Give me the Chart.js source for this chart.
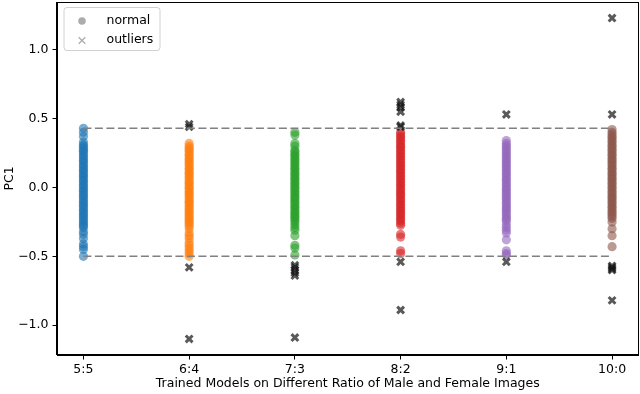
<!DOCTYPE html>
<html><head><meta charset="utf-8">
<script src="https://cdn.jsdelivr.net/npm/chart.js@4/dist/chart.umd.min.js"></script>
<style>html,body{margin:0;padding:0;background:#fff}#wrap{width:640px;height:394px}</style>
</head><body><div id="wrap"><canvas id="c" width="640" height="394"></canvas></div>
<script>
const categories = ['5:5','6:4','7:3','8:2','9:1','10:0'];
const yTicks = [-1.0, -0.5, 0.0, 0.5, 1.0];
const upperBound = 0.43;
const lowerBound = -0.50;
const seriesColors = ['#1f77b4','#ff7f0e','#2ca02c','#d62728','#9467bd','#8c564b'];

const normal55 = [0.43,0.40,0.37,0.33,0.31,0.30,0.285,0.27,0.262,0.245,0.23,0.218,0.2,0.192,0.175,0.16,0.148,0.13,0.122,0.105,0.09,0.081,0.064,0.05,0.038,0.02,0.011,-0.006,-0.02,-0.031,-0.048,-0.06,-0.072,-0.089,-0.1,-0.114,-0.13,-0.141,-0.158,-0.17,-0.183,-0.199,-0.21,-0.226,-0.24,-0.252,-0.268,-0.28,-0.29,-0.32,-0.34,-0.37,-0.41,-0.43,-0.45,-0.50];
const normal64 = [0.32,0.30,0.285,0.27,0.258,0.24,0.228,0.21,0.2,0.183,0.17,0.155,0.14,0.128,0.11,0.1,0.085,0.07,0.058,0.04,0.03,0.014,0.0,-0.012,-0.03,-0.04,-0.055,-0.07,-0.083,-0.1,-0.11,-0.126,-0.14,-0.153,-0.17,-0.18,-0.196,-0.21,-0.224,-0.24,-0.25,-0.265,-0.28,-0.30,-0.33,-0.35,-0.37,-0.40,-0.42,-0.44,-0.46,-0.48,-0.50];
const normal73 = [0.40,0.38,0.32,0.30,0.27,0.258,0.24,0.23,0.212,0.2,0.185,0.17,0.158,0.14,0.13,0.113,0.1,0.086,0.07,0.06,0.043,0.03,0.016,0.0,-0.01,-0.027,-0.04,-0.054,-0.07,-0.08,-0.097,-0.11,-0.124,-0.14,-0.15,-0.167,-0.18,-0.194,-0.21,-0.22,-0.237,-0.25,-0.27,-0.29,-0.31,-0.35,-0.42,-0.44,-0.49];
const normal82 = [0.40,0.388,0.37,0.36,0.343,0.33,0.316,0.3,0.29,0.273,0.26,0.246,0.23,0.22,0.203,0.19,0.176,0.16,0.15,0.133,0.12,0.106,0.09,0.08,0.063,0.05,0.036,0.02,0.01,-0.007,-0.02,-0.034,-0.05,-0.06,-0.077,-0.09,-0.104,-0.12,-0.13,-0.147,-0.16,-0.174,-0.19,-0.2,-0.217,-0.23,-0.244,-0.26,-0.275,-0.34,-0.36,-0.46,-0.48];
const normal91 = [0.34,0.32,0.305,0.29,0.278,0.26,0.248,0.23,0.22,0.202,0.19,0.175,0.16,0.148,0.13,0.12,0.104,0.09,0.076,0.06,0.05,0.033,0.02,0.006,-0.01,-0.02,-0.037,-0.05,-0.064,-0.08,-0.09,-0.107,-0.12,-0.134,-0.15,-0.16,-0.177,-0.19,-0.205,-0.22,-0.23,-0.245,-0.27,-0.29,-0.31,-0.33,-0.38,-0.46,-0.48,-0.49];
const normal100 = [0.42,0.40,0.385,0.37,0.358,0.34,0.328,0.31,0.3,0.283,0.27,0.255,0.24,0.228,0.21,0.2,0.184,0.17,0.157,0.14,0.13,0.113,0.1,0.086,0.07,0.06,0.043,0.03,0.016,0.0,-0.01,-0.027,-0.04,-0.054,-0.07,-0.08,-0.097,-0.11,-0.124,-0.14,-0.15,-0.167,-0.18,-0.194,-0.21,-0.225,-0.25,-0.30,-0.35,-0.43];

const outliers55 = [];
const outliers64 = [0.46,0.44,-0.58,-1.10];
const outliers73 = [-0.565,-0.58,-0.60,-0.62,-0.64,-1.09];
const outliers82 = [0.62,0.60,0.58,0.55,0.45,0.44,-0.54,-0.89];
const outliers91 = [0.53,-0.54];
const outliers100 = [1.23,0.53,-0.57,-0.58,-0.59,-0.60,-0.82];

const normals = [normal55,normal64,normal73,normal82,normal91,normal100];
const outliers = [outliers55,outliers64,outliers73,outliers82,outliers91,outliers100];

function hexA(h,a){const n=parseInt(h.slice(1),16);return `rgba(${n>>16},${(n>>8)&255},${n&255},${a})`;}

const allVals = normals.flat().concat(outliers.flat());
const dMin = Math.min(...allVals), dMax = Math.max(...allVals);
const margin = (dMax - dMin) * 0.05;

const datasets = [];
[upperBound, lowerBound].forEach(v => {
  datasets.push({type:'line', data:[{x:0,y:v},{x:categories.length-1,y:v}], borderColor:'#808080', borderWidth:1.5, borderDash:[8,3.5], pointRadius:0, showLine:true, fill:false, order:0});
});
outliers.forEach((arr,i) => {
  datasets.push({data:arr.map(v=>({x:i,y:v})), pointStyle:'crossRot', pointRadius:4.8, borderWidth:3, borderColor:'rgba(20,20,20,0.7)', backgroundColor:'rgba(20,20,20,0.7)', order:1});
});
normals.forEach((arr,i) => {
  datasets.push({data:arr.map(v=>({x:i,y:v})), pointStyle:'circle', pointRadius:4.6, borderWidth:0, backgroundColor:hexA(seriesColors[i],0.6), order:2});
});

const font = {family:'DejaVu Sans', size:12.5};

const framePlugin = {
  id:'frame',
  afterDraw(chart){
    const {ctx, chartArea:a} = chart;
    ctx.save();
    ctx.strokeStyle = '#000'; ctx.lineWidth = 1;
    ctx.strokeRect(Math.round(a.left)-0.5, Math.round(a.top)+0.5, Math.round(a.right)-Math.round(a.left), Math.round(a.bottom)-Math.round(a.top)-1);
    // legend
    const lx = a.left + 7, ly = a.top + 5.5, lw = 96, lh = 43, r = 3;
    ctx.beginPath();
    ctx.moveTo(lx+r, ly); ctx.lineTo(lx+lw-r, ly); ctx.arcTo(lx+lw, ly, lx+lw, ly+r, r);
    ctx.lineTo(lx+lw, ly+lh-r); ctx.arcTo(lx+lw, ly+lh, lx+lw-r, ly+lh, r);
    ctx.lineTo(lx+r, ly+lh); ctx.arcTo(lx, ly+lh, lx, ly+lh-r, r);
    ctx.lineTo(lx, ly+r); ctx.arcTo(lx, ly, lx+r, ly, r); ctx.closePath();
    ctx.fillStyle = 'rgba(255,255,255,0.8)'; ctx.fill();
    ctx.strokeStyle = '#d0d0d0'; ctx.stroke();
    ctx.fillStyle = 'rgba(128,128,128,0.65)';
    ctx.beginPath(); ctx.arc(lx+18, ly+13.5, 3.8, 0, Math.PI*2); ctx.fill();
    ctx.strokeStyle = 'rgba(128,128,128,0.65)'; ctx.lineWidth = 1.3;
    const cx = lx+18, cy = ly+33, s = 3.3;
    ctx.beginPath(); ctx.moveTo(cx-s,cy-s); ctx.lineTo(cx+s,cy+s); ctx.moveTo(cx+s,cy-s); ctx.lineTo(cx-s,cy+s); ctx.stroke();
    ctx.fillStyle = '#000'; ctx.font = '12.5px "DejaVu Sans"'; ctx.textBaseline = 'middle'; ctx.textAlign = 'left';
    ctx.fillText('normal', lx+42.5, ly+13);
    ctx.fillText('outliers', lx+42.5, ly+32.5);
    ctx.restore();
  }
};

new Chart(document.getElementById('c'), {
  type:'scatter',
  data:{datasets},
  plugins:[framePlugin],
  options:{
    responsive:false, animation:false, devicePixelRatio:1,
    layout:{autoPadding:false, padding:{top:2, right:1.5, left:0, bottom:0}},
    plugins:{legend:{display:false}, tooltip:{enabled:false}},
    scales:{
      x:{
        type:'linear', min:-0.25, max:categories.length-0.75,
        afterBuildTicks(s){ s.ticks = categories.map((_,i)=>({value:i})); },
        afterFit(s){ s.height = 39; s.paddingLeft = 0; s.paddingRight = 0; },
        ticks:{callback:(v)=>categories[v], color:'#000', font, padding:3, maxRotation:0, autoSkip:false},
        grid:{display:true, drawOnChartArea:false, drawTicks:true, tickLength:4.5, tickWidth:1, tickColor:'#000'},
        border:{display:true, color:'#000', width:1},
        title:{display:true, text:'Trained Models on Different Ratio of Male and Female Images', color:'#000', font, padding:{top:0, bottom:2.5}}
      },
      y:{
        type:'linear', min:dMin - margin, max:dMax + margin,
        afterBuildTicks(s){ s.ticks = yTicks.map(v=>({value:v})); },
        afterFit(s){ s.width = 57; s.paddingTop = 0; s.paddingBottom = 0; },
        ticks:{callback:(v)=>(v<0?'\u2212':'')+Math.abs(v).toFixed(1), color:'#000', font, padding:4},
        grid:{display:true, drawOnChartArea:false, drawTicks:true, tickLength:4.5, tickWidth:1, tickColor:'#000'},
        border:{display:true, color:'#000', width:1},
        title:{display:true, text:'PC1', color:'#000', font, padding:{top:2.5, bottom:0}}
      }
    }
  }
});
</script></body></html>
